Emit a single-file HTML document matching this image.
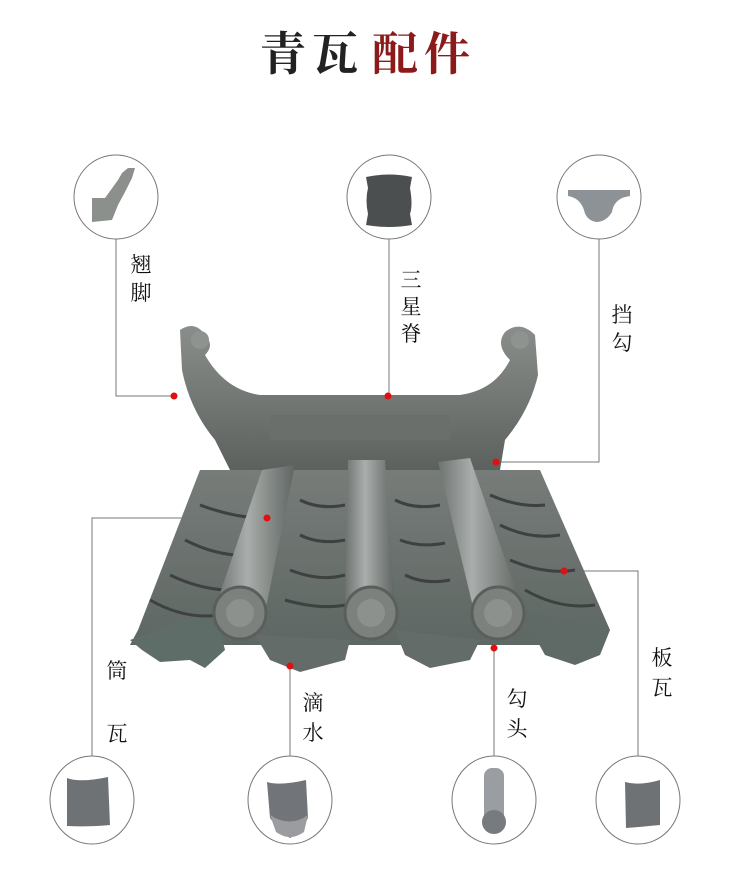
<!DOCTYPE html>
<html><head><meta charset="utf-8"><style>
html,body{margin:0;padding:0;background:#fff;}
body{width:750px;height:884px;overflow:hidden;}
text{font-family:"Liberation Serif","Noto Serif CJK SC",serif;}
</style></head><body>
<svg width="750" height="884" viewBox="0 0 750 884" xmlns="http://www.w3.org/2000/svg">
<defs>
<linearGradient id="cyl" x1="0" x2="1"><stop offset="0" stop-color="#6d7370"/><stop offset=".4" stop-color="#a9adab"/><stop offset="1" stop-color="#5f6562"/></linearGradient>
<linearGradient id="body" x1="0" y1="0" x2="0" y2="1"><stop offset="0" stop-color="#777c79"/><stop offset="1" stop-color="#5e6763"/></linearGradient>
<linearGradient id="ridge" x1="0" y1="0" x2="0" y2="1"><stop offset="0" stop-color="#8a8e8b"/><stop offset="1" stop-color="#5c615e"/></linearGradient>
</defs>
<text x="260" y="70" font-size="46" font-weight="bold" fill="#222" letter-spacing="6">青瓦</text>
<text x="372" y="70" font-size="46" font-weight="bold" fill="#8b1a1a" letter-spacing="6">配件</text>

<g fill="none" stroke="#777" stroke-width="1">
<circle cx="116" cy="197" r="42"/><circle cx="389" cy="197" r="42"/><circle cx="599" cy="197" r="42"/>
<ellipse cx="92" cy="800" rx="42" ry="44"/><ellipse cx="290" cy="800" rx="42" ry="44"/><ellipse cx="494" cy="800" rx="42" ry="44"/><ellipse cx="638" cy="800" rx="42" ry="44"/>
<polyline points="116,239 116,396 174,396"/>
<polyline points="389,239 389,396"/>
<polyline points="599,239 599,462 496,462"/>
<polyline points="267,518 92,518 92,756"/>
<polyline points="290,666 290,756"/>
<polyline points="494,648 494,756"/>
<polyline points="564,571 638,571 638,756"/>
</g>

<!-- small icons -->
<path d="M92,198 L105,198 L118,180 L122,173 L128,168 L135,168 L132,178 L125,192 L118,205 L112,220 L92,222Z" fill="#8c908d"/>
<path d="M366,177 Q389,172 412,177 L410,188 Q413,205 410,214 L412,225 Q389,229 366,225 L368,214 Q365,200 368,188Z" fill="#4b4f50"/>
<path d="M568,190 L630,190 L630,196 Q614,198 612,212 Q606,222 596,222 Q586,220 584,210 Q580,198 568,196Z" fill="#8d9296"/>
<path d="M67,778 Q80,783 108,777 L110,825 Q90,827 67,826Z" fill="#6f7275"/>
<path d="M267,782 Q280,786 306,780 L308,818 Q300,832 290,838 Q280,832 270,818Z" fill="#717478"/>
<path d="M270,815 Q290,828 308,815 L304,832 Q290,842 276,832Z" fill="#9a9c9f"/>
<rect x="484" y="768" width="20" height="60" rx="8" fill="#9a9ea2"/>
<circle cx="494" cy="822" r="12" fill="#777b7f"/>
<path d="M625,782 Q640,786 660,780 L660,825 Q640,827 626,828Z" fill="#6f7275"/>

<!-- roof -->
<g>
<path d="M200,470 L540,470 L610,630 L600,645 L130,645 L138,630Z" fill="url(#body)"/>
<path d="M130,640 L215,610 L225,650 L205,668 L190,660 L160,662 L142,650Z" fill="#5f6d68"/>
<path d="M255,635 L350,640 L345,660 L300,672 L270,660Z" fill="#636c69"/>
<path d="M395,630 L480,640 L470,660 L430,668 L405,655Z" fill="#636c69"/>
<path d="M520,610 L610,630 L600,655 L575,665 L545,655Z" fill="#5f6965"/>
<g stroke="#3d4240" stroke-width="3" fill="none">
<path d="M200,505 Q240,520 275,518"/><path d="M185,540 Q220,558 255,555"/><path d="M170,575 Q205,592 240,590"/>
<path d="M150,600 Q185,620 220,615"/>
<path d="M300,500 Q320,510 345,505"/><path d="M300,535 Q320,545 345,540"/><path d="M290,570 Q320,582 345,575"/><path d="M285,600 Q320,610 345,605"/>
<path d="M395,500 Q415,510 440,505"/><path d="M400,540 Q420,548 445,543"/><path d="M405,575 Q425,585 450,580"/>
<path d="M490,495 Q520,508 545,505"/><path d="M500,525 Q530,540 560,535"/><path d="M510,560 Q545,575 575,570"/><path d="M525,590 Q560,610 595,605"/>
</g>
<!-- ridge -->
<path d="M180,330 Q195,320 205,335 Q215,345 205,355 Q225,390 260,395 L460,395 Q495,390 510,360 Q495,345 505,332 Q520,320 535,335 L538,375 Q530,410 505,440 L500,470 L230,470 L215,440 Q190,410 182,370Z" fill="url(#ridge)"/>
<rect x="270" y="415" width="180" height="25" fill="#6a6f6c"/>
<circle cx="200" cy="340" r="9" fill="#8f938f"/><circle cx="520" cy="340" r="9" fill="#8f938f"/>
<!-- cylinders -->
<path d="M262,470 L295,465 L265,612 L215,608Z" fill="url(#cyl)"/>
<path d="M348,460 L385,460 L395,610 L345,612Z" fill="url(#cyl)"/>
<path d="M438,462 L470,458 L522,608 L475,615Z" fill="url(#cyl)"/>
<circle cx="240" cy="613" r="26" fill="#7c817e" stroke="#5a5f5c" stroke-width="3"/>
<circle cx="371" cy="613" r="26" fill="#7c817e" stroke="#5a5f5c" stroke-width="3"/>
<circle cx="498" cy="613" r="26" fill="#7c817e" stroke="#5a5f5c" stroke-width="3"/>
<circle cx="240" cy="613" r="14" fill="#8c918e"/><circle cx="371" cy="613" r="14" fill="#8c918e"/><circle cx="498" cy="613" r="14" fill="#8c918e"/>
</g>

<g fill="#e01010">
<circle cx="174" cy="396" r="3.5"/><circle cx="388" cy="396" r="3.5"/><circle cx="496" cy="462" r="3.5"/>
<circle cx="267" cy="518" r="3.5"/><circle cx="564" cy="571" r="3.5"/><circle cx="494" cy="648" r="3.5"/><circle cx="290" cy="666" r="3.5"/>
</g>

<g font-size="21" fill="#111" text-anchor="middle">
<text x="141" y="272">翘</text><text x="141" y="300">脚</text>
<text x="411" y="287">三</text><text x="411" y="314">星</text><text x="411" y="341">脊</text>
<text x="622" y="322">挡</text><text x="622" y="350">勾</text>
<text x="117" y="678">筒</text><text x="117" y="741">瓦</text>
<text x="313" y="710">滴</text><text x="313" y="740">水</text>
<text x="517" y="706">勾</text><text x="517" y="736">头</text>
<text x="662" y="665">板</text><text x="662" y="695">瓦</text>
</g>
</svg>
</body></html>
